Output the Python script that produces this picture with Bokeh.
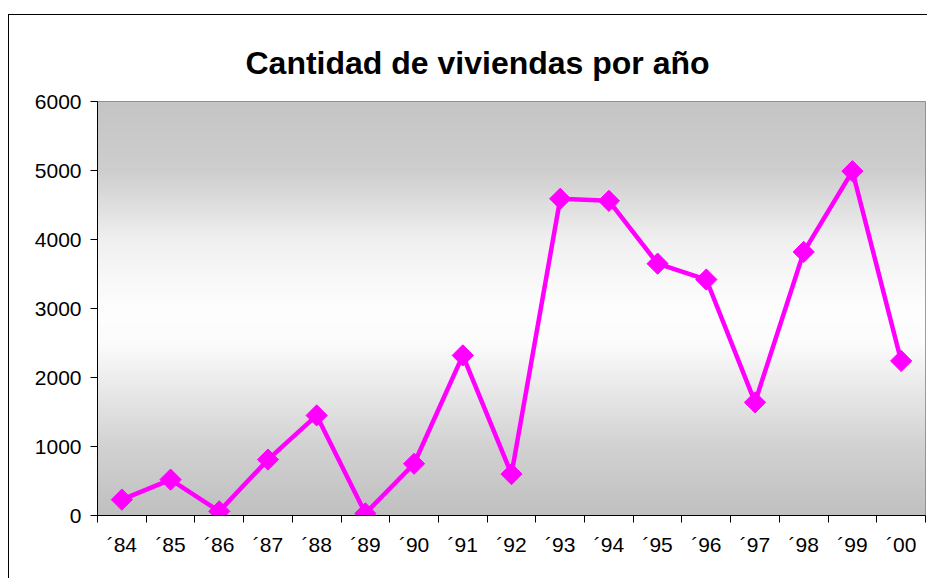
import numpy as np
from bokeh.plotting import figure
from bokeh.models import Range1d, FixedTicker, ColumnDataSource
from bokeh.embed import file_html
from bokeh.resources import INLINE

# ---- data ----
years = ["´84", "´85", "´86", "´87", "´88", "´89", "´90", "´91", "´92",
         "´93", "´94", "´95", "´96", "´97", "´98", "´99", "´00"]
viviendas = [230, 520, 60, 810, 1450, 30, 750, 2320, 600,
             4590, 4560, 3650, 3420, 1640, 3820, 4990, 2240]
y_ticks = [0, 1000, 2000, 3000, 4000, 5000, 6000]
title_text = "Cantidad de viviendas por año"

# background gradient (value -> gray level)
grad_vals = [0, 1000, 2000, 2500, 3000, 4000, 5000, 6000]
grad_gray = [192, 210, 238, 252, 254, 240, 206, 197]

FONT = "Liberation Sans"
MAGENTA = "#FF00FF"

n = len(years)
xs = list(range(n))
src = ColumnDataSource(data=dict(x=xs, y=viviendas, label=years))

p = figure(width=919, height=564, output_backend="svg", toolbar_location=None,
           x_range=Range1d(-0.5, n - 0.5), y_range=Range1d(y_ticks[0], y_ticks[-1]),
           min_border_left=88, min_border_right=3, min_border_top=86,
           min_border_bottom=64, title=title_text)
p.styles = {"position": "relative", "top": "14px", "left": "8px",
            "border-left": "1px solid #000", "border-top": "1px solid #000"}

# gradient background
yy = np.linspace(y_ticks[0], y_ticks[-1], 600)
g = np.interp(yy, grad_vals, grad_gray).astype(np.uint32)
img = ((255 << 24) | (g << 16) | (g << 8) | g).reshape(-1, 1).astype(np.uint32)
p.image_rgba(image=[img], x=-0.5, y=y_ticks[0], dw=n, dh=y_ticks[-1] - y_ticks[0])

p.border_fill_color = "white"
p.outline_line_color = "#808080"
p.outline_line_width = 1

# title
p.title.text_font = FONT
p.title.text_font_size = "32px"
p.title.text_font_style = "bold"
p.title.text_color = "black"
p.title.align = "left"
p.title.offset = 148
p.title.standoff = 41

# grid
p.xgrid.visible = False
p.ygrid.ticker = FixedTicker(ticks=y_ticks)
p.ygrid.grid_line_color = "#555555"
p.ygrid.grid_line_width = 1

# y axis
p.yaxis.ticker = FixedTicker(ticks=y_ticks)
p.yaxis.major_label_text_font = FONT
p.yaxis.major_label_text_font_size = "21px"
p.yaxis.major_label_text_color = "black"
p.yaxis.axis_line_color = "black"
p.yaxis.major_tick_line_color = "black"
p.yaxis.major_tick_out = 7
p.yaxis.major_tick_in = 0
p.yaxis.minor_tick_out = 0
p.yaxis.minor_tick_in = 0
p.yaxis.major_label_standoff = 9

# x axis
p.xaxis.ticker = FixedTicker(ticks=xs, minor_ticks=[i - 0.5 for i in range(n + 1)])
p.xaxis.major_label_overrides = {int(i): lab for i, lab in zip(xs, years)}
p.xaxis.major_label_text_font = FONT
p.xaxis.major_label_text_font_size = "21px"
p.xaxis.major_label_text_color = "black"
p.xaxis.axis_line_color = "black"
p.xaxis.major_tick_out = 0
p.xaxis.major_tick_in = 0
p.xaxis.minor_tick_out = 7
p.xaxis.minor_tick_in = 0
p.xaxis.minor_tick_line_color = "black"
p.xaxis.major_label_standoff = 10

# series
p.line("x", "y", source=src, line_color=MAGENTA, line_width=4.5)
p.scatter("x", "y", source=src, marker="square", size=15, angle=np.pi / 4,
          fill_color=MAGENTA, line_color=MAGENTA)

open("out.html", "w").write(file_html(p, INLINE))
